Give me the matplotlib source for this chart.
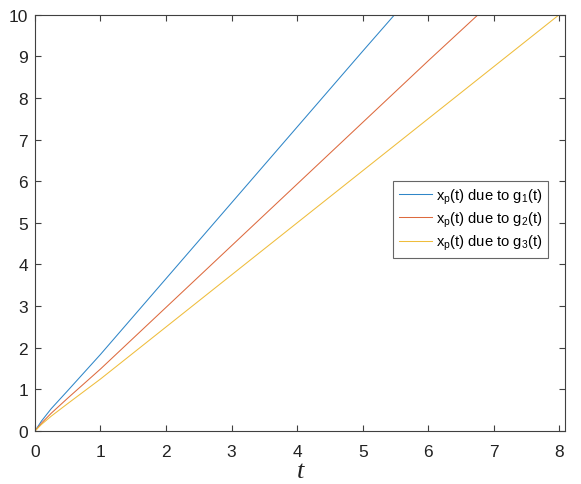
import matplotlib
matplotlib.use("Agg")
import matplotlib.pyplot as plt

plt.rcParams['font.family'] = ['Liberation Sans', 'DejaVu Sans']
plt.rcParams['mathtext.fontset'] = 'custom'
plt.rcParams['mathtext.rm'] = 'Liberation Sans'

# Data
t_g1 = [0, 0.1, 0.25, 0.5, 1, 2, 3, 4, 5, 5.6]
x_g1 = [0, 0.24, 0.54, 0.97, 1.84, 3.66, 5.48, 7.3, 9.12, 10.2]

t_g2 = [0, 0.1, 0.25, 0.5, 1, 2, 3, 4, 5, 6, 6.9]
x_g2 = [0, 0.19, 0.43, 0.79, 1.49, 2.97, 4.45, 5.93, 7.41, 8.89, 10.2]

t_g3 = [0, 0.1, 0.25, 0.5, 1, 2, 3, 4, 5, 6, 7, 8, 8.1]
x_g3 = [0, 0.16, 0.36, 0.66, 1.25, 2.5, 3.75, 5.0, 6.25, 7.5, 8.75, 10.0, 10.12]

labels = [r'x$_\mathregular{p}$(t) due to g$_\mathregular{1}$(t)',
          r'x$_\mathregular{p}$(t) due to g$_\mathregular{2}$(t)',
          r'x$_\mathregular{p}$(t) due to g$_\mathregular{3}$(t)']
colors = ['#2f86c8', '#dd6a3e', '#efbd3c']

x_ticks = [0, 1, 2, 3, 4, 5, 6, 7, 8]
y_ticks = [0, 1, 2, 3, 4, 5, 6, 7, 8, 9, 10]

fig = plt.figure(figsize=(5.81, 4.85), dpi=100)
ax = fig.add_axes([0.060, 0.109, 0.913, 0.859])

for t, x, lab, c in zip([t_g1, t_g2, t_g3], [x_g1, x_g2, x_g3], labels, colors):
    ax.plot(t, x, color=c, lw=0.75, label=lab)

ax.set_xlim(0, 8.09)
ax.set_ylim(0, 10)
ax.set_xticks(x_ticks)
ax.set_yticks(y_ticks)

axcol = '#404040'
for s in ax.spines.values():
    s.set_color(axcol)
    s.set_linewidth(0.8)
ax.tick_params(direction='in', top=True, right=True, length=4, width=0.8,
               color=axcol, labelcolor='#222222', labelsize=12.5)
ax.tick_params(axis='x', pad=9)
ax.tick_params(axis='y', pad=5)

ax.set_xlabel('t', fontsize=19, fontstyle='italic', family='Liberation Serif',
              color='#222222', labelpad=1)

leg = ax.legend(loc='upper right', bbox_to_anchor=(0.967, 0.60), fontsize=10.6,
                frameon=True, fancybox=False, handlelength=2.3,
                borderpad=0.35, labelspacing=0.25, handletextpad=0.25,
                borderaxespad=0)
leg.get_frame().set_edgecolor('#404040')
leg.get_frame().set_linewidth(0.8)

fig.savefig('out.png', dpi=100)
